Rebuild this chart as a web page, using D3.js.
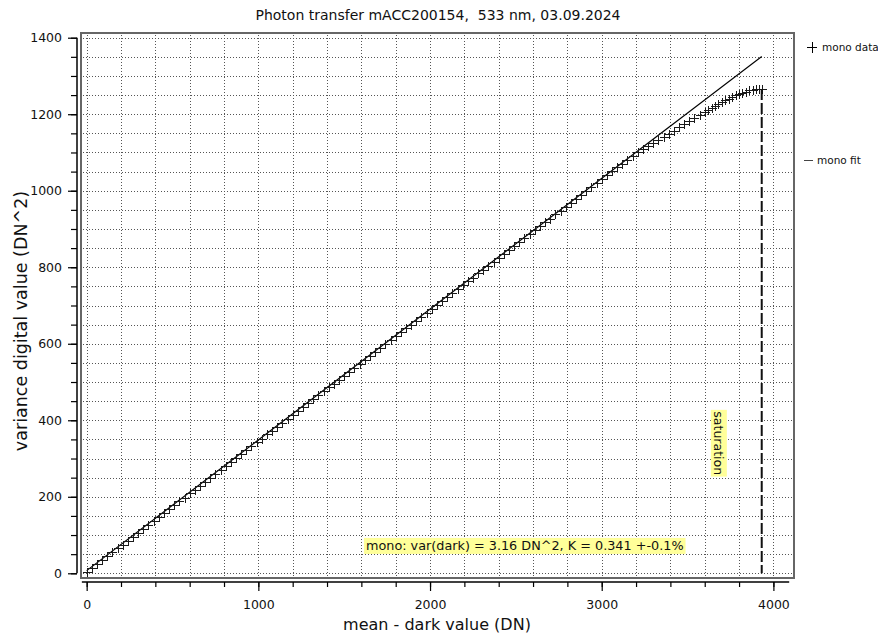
<!DOCTYPE html>
<html><head><meta charset="utf-8">
<script src="https://cdn.jsdelivr.net/npm/d3@7/dist/d3.min.js"></script>
<style>
body{margin:0;background:#fff;}
svg{display:block;font-family:"DejaVu Sans",Verdana,sans-serif;}
</style>
</head><body>
<svg id="c" width="878" height="634"></svg>
<script>
// ---------- data ----------
const chartTitle = "Photon transfer mACC200154,  533 nm, 03.09.2024";
const xAxisLabel = "mean - dark value (DN)";
const yAxisLabel = "variance digital value (DN^2)";
const xTickLabels = [0, 1000, 2000, 3000, 4000];
const yTickLabels = [0, 200, 400, 600, 800, 1000, 1200, 1400];
const seriesNames = ["mono data", "mono fit"];
const fitText = "mono: var(dark) = 3.16 DN^2, K = 0.341 +-0.1%";
const saturationText = "saturation";

const meanDN = [0,30,60,90,120,150,180,210,240,270,300,330,360,390,420,450,480,510,540,570,600,630,660,690,720,750,780,810,840,870,900,930,960,990,1020,1050,1080,1110,1140,1170,1200,1230,1260,1290,1320,1350,1380,1410,1440,1470,1500,1530,1560,1590,1620,1650,1680,1710,1740,1770,1800,1830,1860,1890,1920,1950,1980,2010,2040,2070,2100,2130,2160,2190,2220,2250,2280,2310,2340,2370,2400,2430,2460,2490,2520,2550,2580,2610,2640,2670,2700,2730,2760,2790,2820,2850,2880,2910,2940,2970,3000,3030,3060,3090,3120,3150,3180,3210,3240,3270,3300,3330,3360,3390,3420,3450,3480,3510,3540,3570,3600,3620,3640,3660,3680,3700,3720,3740,3760,3780,3800,3820,3840,3860,3880,3900,3915,3932];
const varianceDN2 = [3,13,24,34,44,55,65,75,85,96,106,116,126,137,147,157,168,178,188,198,209,219,229,239,250,260,270,280,291,301,311,322,332,342,352,363,373,383,393,404,414,424,435,445,455,465,476,486,496,506,517,527,537,547,558,568,578,589,599,609,619,630,640,650,660,671,681,691,701,712,722,732,743,753,763,773,784,794,804,814,825,835,845,856,866,876,886,897,907,917,927,938,948,958,968,979,989,999,1010,1020,1030,1040,1051,1061,1071,1081,1092,1101,1109,1117,1125,1133,1141,1149,1157,1166,1174,1183,1191,1198,1206,1211,1216,1222,1227,1232,1236,1241,1245,1249,1252,1256,1259,1262,1264,1265,1266,1266];
const fitMean = [0, 3932];
const fitVariance = [7, 1351];
const saturationMean = 3932;
const saturationVariance = 1266;

// ---------- layout ----------
const svg = d3.select("#c");
const frame = {l: 81, t: 33, r: 794, b: 578};
const x = d3.scaleLinear().domain([-33, 4120]).range([frame.l, frame.r]);
const y = d3.scaleLinear().domain([-12.3, 1412.3]).range([frame.b, frame.t]);

const xMinor = d3.range(0, 4001, 200);
const yMinor = d3.range(0, 1401, 50);

// grid
const grid = svg.append("g").attr("stroke", "#555").attr("stroke-width", 1)
  .attr("stroke-dasharray", "1,2").attr("shape-rendering", "crispEdges");
grid.selectAll("line.v").data(xMinor).join("line").attr("class", "v")
  .attr("x1", d => Math.round(x(d)) + 0.5).attr("x2", d => Math.round(x(d)) + 0.5)
  .attr("y1", frame.t + 2).attr("y2", frame.b - 1);
grid.selectAll("line.h").data(yMinor).join("line").attr("class", "h")
  .attr("y1", d => Math.round(y(d)) + 0.5).attr("y2", d => Math.round(y(d)) + 0.5)
  .attr("x1", frame.l + 2).attr("x2", frame.r - 1);

// plot frame
svg.append("rect").attr("x", frame.l).attr("y", frame.t)
  .attr("width", frame.r - frame.l).attr("height", frame.b - frame.t)
  .attr("fill", "none").attr("stroke", "#666").attr("stroke-width", 2);

// Y axis
const yAxisX = 77;
const yAx = svg.append("g").attr("transform", `translate(${yAxisX},0)`);
yAx.append("g").call(d3.axisLeft(y).tickValues(yMinor).tickSize(6).tickFormat(""))
  .call(g => g.select(".domain").remove());
yAx.append("g").call(d3.axisLeft(y).tickValues(yTickLabels).tickSize(9).tickPadding(6).tickFormat(d3.format("d")))
  .call(g => g.select(".domain").remove())
  .call(g => g.selectAll("text").attr("font-size", 12.5).attr("fill", "#111").attr("font-family", "DejaVu Sans"));
yAx.append("line").attr("x1", 0).attr("x2", 0).attr("y1", y(1400)).attr("y2", y(0))
  .attr("stroke", "#000").attr("stroke-width", 1.5);

// X axis
const xAxisY = 582;
const xAx = svg.append("g").attr("transform", `translate(0,${xAxisY})`);
xAx.append("g").call(d3.axisBottom(x).tickValues(xMinor).tickSize(5).tickFormat(""))
  .call(g => g.select(".domain").remove());
xAx.append("g").call(d3.axisBottom(x).tickValues(xTickLabels).tickSize(9).tickPadding(9).tickFormat(d3.format("d")))
  .call(g => g.select(".domain").remove())
  .call(g => g.selectAll("text").attr("font-size", 12.5).attr("fill", "#111").attr("font-family", "DejaVu Sans"));
xAx.append("line").attr("y1", 0).attr("y2", 0).attr("x1", x(-28)).attr("x2", x(4092))
  .attr("stroke", "#000").attr("stroke-width", 1.5);
svg.selectAll(".tick line").attr("stroke", "#000").attr("stroke-width", 1.2);

// fit line
const pts = meanDN.map((m, i) => [m, varianceDN2[i]]);
const fitPts = fitMean.map((m, i) => [m, fitVariance[i]]);
svg.append("path").datum(fitPts)
  .attr("d", d3.line().x(d => x(d[0])).y(d => y(d[1])))
  .attr("fill", "none").attr("stroke", "#000").attr("stroke-width", 1.2);

// data markers
svg.append("g").selectAll("path").data(pts).join("path")
  .attr("transform", d => `translate(${Math.round(x(d[0]))},${Math.round(y(d[1]))})`)
  .attr("d", "M-4,0.5H5M0.5,-4V5")
  .attr("fill", "none").attr("stroke", "#1a1a1a").attr("stroke-width", 1)
  .attr("shape-rendering", "crispEdges");

// saturation line
svg.append("line")
  .attr("x1", x(saturationMean)).attr("x2", x(saturationMean))
  .attr("y1", y(saturationVariance)).attr("y2", y(0))
  .attr("stroke", "#111").attr("stroke-width", 2).attr("stroke-dasharray", "11,3");

// saturation label (rotated)
const satG = svg.append("g")
  .attr("transform", `translate(${x(saturationMean) - 43},${y(340)}) rotate(90)`);
const satT = satG.append("text").attr("text-anchor", "middle").attr("dy", "0.35em")
  .attr("font-size", 12.5).attr("fill", "#111").text(saturationText);
const sb = satT.node().getBBox();
satG.insert("rect", "text").attr("x", sb.x - 1.5).attr("y", sb.y - 0.5)
  .attr("width", sb.width + 3).attr("height", sb.height + 1).attr("fill", "#ffff99");

// fit annotation
const annG = svg.append("g").attr("transform", `translate(${x(1627)},${y(71.5)})`);
const annT = annG.append("text").attr("dy", "0.35em").attr("font-size", 12.8)
  .attr("fill", "#111").style("white-space", "pre").text(fitText);
const ab = annT.node().getBBox();
annG.insert("rect", "text").attr("x", ab.x - 2).attr("y", ab.y - 0.5)
  .attr("width", ab.width + 4).attr("height", ab.height + 1).attr("fill", "#ffff99");

// title & axis labels
svg.append("text").attr("x", 438).attr("y", 20).attr("text-anchor", "middle")
  .attr("font-size", 14).attr("fill", "#111").style("white-space", "pre").text(chartTitle);
svg.append("text").attr("x", 437).attr("y", 630).attr("text-anchor", "middle")
  .attr("font-size", 16).attr("fill", "#111").text(xAxisLabel);
svg.append("text").attr("transform", "translate(27,321) rotate(-90)").attr("text-anchor", "middle")
  .attr("font-size", 17.5).attr("fill", "#111").text(yAxisLabel);

// legend
const lg = svg.append("g");
lg.append("path").attr("d", "M807,47.5H817M812.5,42V53").attr("stroke", "#000").attr("stroke-width", 1)
  .attr("shape-rendering", "crispEdges");
lg.append("text").attr("x", 822).attr("y", 51).attr("font-size", 10.5).attr("fill", "#111").text(seriesNames[0]);
lg.append("path").attr("d", "M804,160.5H813").attr("stroke", "#444").attr("stroke-width", 1)
  .attr("shape-rendering", "crispEdges");
lg.append("text").attr("x", 817).attr("y", 164).attr("font-size", 10.5).attr("fill", "#111").text(seriesNames[1]);
</script>
</body></html>
